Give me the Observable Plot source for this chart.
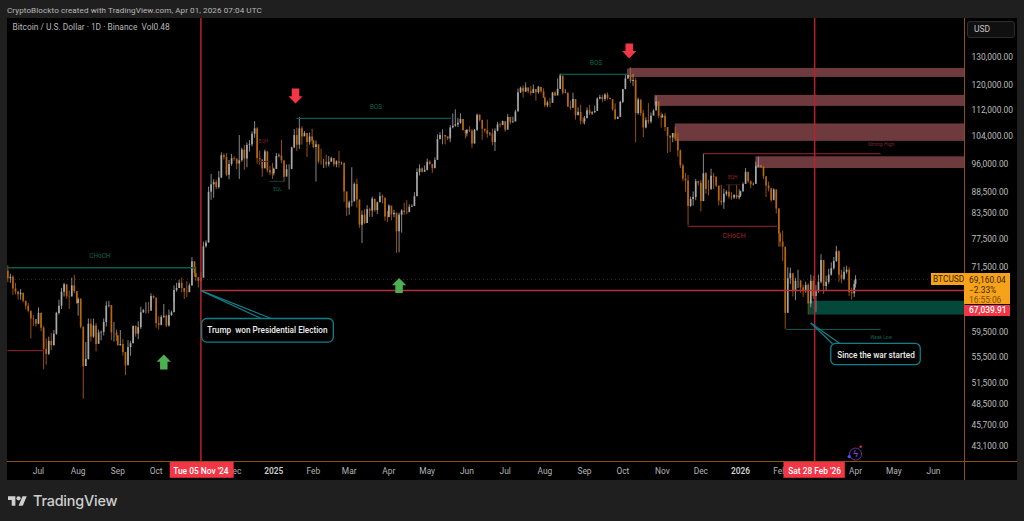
<!DOCTYPE html>
<html>
<head>
<meta charset="utf-8">
<script src="https://cdn.jsdelivr.net/npm/d3@7"></script>
<script src="https://cdn.jsdelivr.net/npm/@observablehq/plot@0.6"></script>
<style>
  html,body{margin:0;padding:0;background:#1f1f1f;width:1024px;height:521px;overflow:hidden;font-family:Roboto,sans-serif}
  #wrap{position:relative;width:1024px;height:521px}
  #head{position:absolute;left:7px;top:5px;font-size:8.1px;color:#b9b9b9;white-space:nowrap;letter-spacing:.08px}
  #panel{position:absolute;left:7px;top:18px;width:1010px;height:462px;background:#000}
  #chart{position:absolute;left:0;top:18px}
  #lineB{position:absolute;left:7px;top:461px;width:1010px;height:1px;background:#8f5210}
  #lineR{position:absolute;left:964px;top:18px;width:1px;height:462px;background:#8f5210}
  #usd{position:absolute;left:967px;top:21px;width:48px;height:17px;box-sizing:border-box;border:1px solid #2c2c2c;border-radius:3px;background:#101010;color:#c4c4c4;font-size:8.5px;line-height:15px;padding-left:6px}
  .tag{position:absolute;font-size:8.4px;box-sizing:border-box;white-space:nowrap}
  #logo{position:absolute;left:8px;top:495px;width:19px;height:12px}
  #brand{position:absolute;left:33px;top:492px;font-family:Inter,Roboto,sans-serif;font-size:14.4px;font-weight:500;color:#cfcfcf;letter-spacing:-.2px}
</style>
</head>
<body>
<div id="wrap">
  <div id="head">CryptoBlockto created with TradingView.com, Apr 01, 2026 07:04 UTC</div>
  <div id="panel"></div>
  <div id="chart"></div>
  <div id="lineB"></div>
  <div id="lineR"></div>
  <div id="usd">USD</div>
  <div class="tag" style="left:931px;top:273px;width:33px;height:12px;background:#f7a21b;color:#3a2500;line-height:12px;padding-left:2px">BTCUSD</div>
  <div class="tag" style="left:964px;top:273px;width:46px;height:31px;background:#f7a21b;color:#3a2500;line-height:10px;padding:2px 0 0 5px">69,160.04<br>−2.33%<br><span style="color:#7a5208">16:55:06</span></div>
  <div class="tag" style="left:964px;top:305px;width:46px;height:11px;background:#f23645;color:#fff;line-height:11px;padding-left:5px;font-weight:500">67,039.91</div>
  <svg id="logo" viewBox="0 4 36 18"><path fill="#cfcfcf" d="M14 22H7V11H0V4h14v18zM28 22h-8l7.5-18h8L28 22z"/><circle fill="#cfcfcf" cx="20" cy="8" r="4"/></svg>
  <div id="brand">TradingView</div>
</div>
<script>
// One row per month, sampled every second day on odd dates. Values in thousands of USD.
const months = ["2024-06","2024-07","2024-08","2024-09","2024-10","2024-11","2024-12","2025-01","2025-02","2025-03","2025-04","2025-05","2025-06","2025-07","2025-08","2025-09","2025-10","2025-11","2025-12","2026-01","2026-02","2026-03","2026-04"];
const firstDays = [7,1,1,1,1,1,1,1,1,1,1,1,1,1,1,1,1,1,1,1,1,1,1];
const firstOpen = 70.8;
const closes = [
[69.3,69.6,67.3,66.7,66.2,66.5,65.0,64.1,63.2,61.8,61.7,60.9],
[62.8,60.2,56.7,55.9,58.0,57.3,59.2,62.8,64.1,66.7,68.1,65.9,65.8,67.9,66.8,64.6],
[65.3,60.4,54.0,55.1,60.9,58.7,60.6,57.5,59.4,59.5,61.2,64.1,64.2,59.4,59.4,58.9],
[57.3,57.5,56.2,54.1,57.0,57.6,60.5,59.2,60.3,62.9,63.3,63.3,63.2,65.9,65.6],
[61.0,60.7,62.1,62.3,60.6,62.4,62.9,67.0,67.4,68.4,67.4,66.7,66.6,67.9,72.7,70.3],
[69.5,68.8,69.4,75.9,76.7,88.6,90.5,91.1,89.8,92.3,98.3,97.8,93.0,95.9,97.5],
[97.4,96.0,96.9,99.9,97.4,101.2,101.4,104.5,106.1,97.5,97.2,94.7,99.4,94.2,93.6,93.4],
[94.6,98.1,98.2,96.9,92.5,94.5,94.5,100.5,104.1,101.3,106.1,103.7,104.7,102.1,103.7,102.4],
[100.6,101.4,96.6,96.5,96.5,95.8,96.5,97.5,95.8,96.6,96.2,96.2,88.7,84.7],
[86.0,86.2,90.6,86.7,80.7,83.0,81.1,84.3,84.0,86.9,84.1,86.0,87.5,87.2,82.6,82.5],
[85.2,83.1,83.5,79.2,83.0,84.0,83.7,83.6,84.9,85.1,87.5,93.7,94.7,93.8,94.3],
[96.5,95.9,94.7,97.0,102.9,104.1,104.1,103.7,103.1,106.4,106.9,107.3,107.8,109.0,105.6,104.6],
[105.7,105.4,101.6,105.7,110.3,108.7,106.0,105.5,104.5,104.6,102.1,105.4,107.3,107.1,108.3],
[105.7,109.6,108.0,108.2,111.3,117.6,119.1,117.8,119.2,117.9,117.3,118.7,117.6,119.4,117.9,115.8],
[113.3,114.2,114.1,117.5,116.5,118.7,123.3,117.4,117.5,112.9,112.5,115.3,110.1,111.2,108.4,108.2],
[109.2,111.7,110.7,111.1,111.5,115.5,116.0,115.3,116.8,115.7,115.3,112.0,109.0,109.6,114.4],
[118.6,122.3,123.5,121.4,121.7,110.8,115.2,110.8,106.4,108.6,108.2,110.0,111.6,114.6,110.0,109.5],
[110.0,106.5,103.9,103.4,104.7,103.0,99.7,95.5,92.0,91.5,85.1,86.8,87.3,91.3,90.9],
[86.3,93.4,89.3,89.2,92.7,92.5,90.2,86.4,86.0,88.1,88.6,87.4,87.2,87.8,87.2,87.6],
[88.7,90.6,93.8,91.3,90.5,90.6,95.3,95.6,95.1,92.6,90.2,89.5,86.5,89.2,84.5,78.7],
[76.9,75.8,62.8,69.3,70.3,66.9,68.8,68.8,67.5,66.8,68.0,64.5,68.8,65.9],
[66.8,68.6,73.0,67.8,68.6,70.0,71.3,72.8,74.8,70.0,69.2,70.6,71.0,66.6,66.4,68.2],
[69.16]];
const highs = [
[71.9,70.2,69.9,68.4,66.9,67.2,66.0,65.0,64.6,62.8,62.4,61.4],
[63.8,62.9,60.5,58.4,58.7,59.3,59.8,63.0,65.2,67.4,68.4,68.1,66.9,69.4,70.0,66.8],
[65.6,65.5,58.3,57.8,61.8,61.8,61.8,61.0,59.9,59.7,61.8,64.9,65.0,64.2,61.2,59.9],
[59.0,59.8,58.3,54.8,58.1,58.0,60.6,60.6,61.3,63.9,63.5,64.7,64.8,66.4,66.0],
[64.1,62.2,62.4,64.4,62.5,63.4,63.2,67.9,68.4,69.0,69.4,67.4,68.7,68.3,73.6,72.7],
[71.6,69.5,70.5,76.9,77.2,89.9,93.2,91.8,91.7,94.0,99.1,98.8,98.9,97.0,98.7],
[98.0,96.9,104.1,100.4,101.2,101.9,102.6,105.2,108.3,106.5,99.6,96.5,99.9,97.8,95.4,96.2],
[94.9,98.9,98.8,102.7,95.3,95.8,95.8,100.7,105.9,106.3,109.6,106.8,105.3,103.2,104.8,106.0],
[102.7,102.5,98.8,100.1,97.3,98.5,98.1,97.9,97.0,96.9,99.5,96.5,92.5,87.0],
[86.4,95.0,91.0,92.0,86.3,84.0,84.3,85.3,84.7,87.4,85.0,86.2,88.5,87.9,84.6,83.9],
[85.5,84.0,84.2,81.2,83.5,84.3,85.9,86.5,85.5,85.5,88.5,94.7,95.8,95.0,95.5],
[97.4,96.9,95.9,97.7,104.3,104.9,105.8,104.2,103.7,107.1,110.7,112.0,109.3,110.7,108.9,104.9],
[105.8,106.8,105.9,105.9,110.6,110.4,106.2,106.0,108.8,105.0,106.0,106.1,108.1,107.8,108.5],
[107.5,110.5,108.4,109.7,111.9,118.8,119.5,119.9,120.9,118.9,119.7,120.2,118.3,119.7,119.2,118.9],
[116.1,114.8,115.7,117.7,117.9,122.3,124.0,119.2,118.6,116.8,114.8,117.4,113.6,112.6,113.5,109.5],
[109.9,112.6,113.4,111.4,113.2,115.9,116.7,116.8,117.3,117.5,115.9,113.4,113.9,109.8,114.8],
[118.7,123.9,125.7,126.2,123.9,122.5,115.8,113.4,111.8,109.5,114.0,111.0,112.0,116.4,113.6,111.0],
[110.6,110.8,104.5,104.0,104.7,106.6,104.6,99.9,96.0,93.5,92.9,87.4,88.7,91.9,91.3],
[91.6,98.9,93.7,91.7,94.6,93.5,92.5,90.1,90.4,89.4,89.0,90.5,88.5,88.0,90.3,89.2],
[88.9,91.0,94.8,93.4,91.5,91.0,96.5,97.9,95.6,95.4,91.0,91.2,89.5,89.5,88.5,84.5],
[79.0,79.3,73.3,71.5,71.4,69.3,69.4,71.0,69.0,68.0,68.6,68.3,70.0,69.8],
[68.0,70.0,74.2,73.0,69.8,71.2,72.5,73.6,76.0,75.0,71.0,71.6,71.8,71.5,67.5,68.9],
[69.9]];
const lows = [
[68.5,68.4,66.1,66.2,65.2,65.2,64.7,63.4,62.9,58.4,60.5,60.4],
[60.8,59.6,53.5,54.2,55.7,56.5,57.2,59.0,62.5,63.5,65.8,65.4,63.5,65.8,66.4,64.4],
[62.3,60.1,49.2,54.6,55.0,57.9,58.5,56.3,57.8,58.1,58.9,60.4,63.8,58.1,57.9,58.0],
[57.2,57.2,55.6,52.6,54.6,55.6,57.6,58.7,58.3,60.0,62.8,62.7,62.7,63.8,65.4],
[60.2,59.9,60.6,61.9,60.3,60.4,62.3,64.8,66.7,67.6,66.6,65.3,65.7,66.8,67.9,69.6],
[68.8,67.5,67.0,74.5,75.6,76.7,86.6,87.1,89.2,89.4,92.1,97.1,92.6,91.8,95.4],
[96.8,94.5,91.9,96.5,94.3,95.0,99.3,100.8,103.3,96.0,95.7,92.5,98.0,93.6,92.9,91.9],
[92.8,94.5,97.7,96.1,91.2,93.8,89.2,96.5,100.3,99.5,100.1,101.3,104.1,97.8,101.3,101.5],
[100.3,91.2,96.1,95.7,94.8,94.9,95.2,97.2,95.2,95.0,94.9,95.7,86.1,82.7],
[83.0,85.0,86.3,84.7,80.0,76.6,80.8,83.9,82.5,82.5,83.7,83.2,86.3,85.8,81.6,81.3],
[82.4,81.7,82.4,74.5,74.6,78.9,83.0,83.1,83.9,84.9,85.2,91.9,92.8,93.6,93.8],
[94.1,95.7,93.5,95.8,101.8,103.1,101.4,101.4,102.6,102.0,106.1,106.6,106.5,107.5,105.4,103.1],
[103.7,105.0,100.4,103.2,105.3,108.2,102.7,104.9,103.3,103.9,101.1,99.5,105.2,106.4,107.2],
[105.1,108.6,107.3,107.8,108.3,115.2,117.3,115.8,117.6,117.3,116.5,117.3,114.8,117.1,117.4,115.7],
[112.7,112.7,112.7,114.3,116.3,118.1,118.9,116.9,117.2,112.7,111.9,114.6,108.8,110.3,107.3,107.5],
[107.3,110.5,110.2,110.2,110.8,113.4,115.2,114.4,114.7,115.1,115.1,111.6,108.7,109.0,111.6],
[114.0,119.3,122.2,120.7,119.7,102.0,110.3,110.0,103.5,106.1,107.5,107.6,110.8,113.8,109.2,106.3],
[109.4,105.3,98.9,99.2,102.0,102.5,97.9,94.8,91.3,88.6,80.6,84.9,85.2,86.5,90.2],
[83.8,89.2,88.1,87.7,89.6,89.3,89.8,85.2,85.3,84.4,87.6,86.9,86.6,86.8,86.8,86.7],
[87.3,89.3,91.0,90.8,89.5,90.2,91.0,95.0,94.8,91.9,87.3,88.7,86.1,87.3,83.3,75.8],
[75.8,72.8,60.0,67.5,68.2,65.8,65.1,67.4,66.5,65.7,66.5,62.5,63.8,65.3],
[63.0,66.5,68.3,66.3,66.8,68.2,69.8,71.0,72.6,68.6,68.3,68.9,70.2,65.9,65.2,65.7],
[67.5]];

// Price axis and time axis
const priceTicks = [130000,120000,112000,104000,96000,88500,83500,77500,71500,59500,55500,51500,48500,45700,43100];
const monthTicks = [["2024-07-01","Jul"],["2024-08-01","Aug"],["2024-09-01","Sep"],["2024-10-01","Oct"],["2024-12-01","Dec"],["2025-02-01","Feb"],["2025-03-01","Mar"],["2025-04-01","Apr"],["2025-05-01","May"],["2025-06-01","Jun"],["2025-07-01","Jul"],["2025-08-01","Aug"],["2025-09-01","Sep"],["2025-10-01","Oct"],["2025-11-01","Nov"],["2025-12-01","Dec"],["2026-02-01","Feb"],["2026-04-01","Apr"],["2026-05-01","May"],["2026-06-01","Jun"]];
const yearTicks = [["2025-01-01","2025"],["2026-01-01","2026"]];
const xDomain = ["2024-06-06T18:00Z","2026-06-25T05:00Z"];
const yDomain = [41220,145200];

// Annotations: [start, end, price]
const tealLines = [["2024-06-07","2024-11-01",71500],["2025-01-19","2025-05-20",109300],["2025-08-14","2025-10-05",123900]];
const redLines = [["2024-06-07","2024-07-06",56500],["2025-11-21","2026-01-30",80400],["2025-12-03","2026-04-21",98900]];
const dimLines = [["2024-12-20","2024-12-29",96700,"#4a1a22"],["2024-12-29","2025-01-10",91400,"#12473f"],["2025-12-21","2026-01-01",90500,"#4a1a22"],["2026-02-06","2026-04-21",60000,"#1c6560"]];
const upperZones = [["2025-10-06",126000,122800],["2025-10-26",116700,113100],["2025-11-11",107600,102400],["2026-01-13",98000,94800]];
const greenZone = [["2026-02-24",65000,62500]];
const smallLabels = [
  ["2024-08-18",74000,"CHoCH","#0e6555",6.4],["2025-03-22",112800,"BOS","#0e6555",6.4],["2025-09-10",127800,"BOS","#0e6555",6.4],
  ["2025-12-27",78400,"CHoCH","#a02030",7],["2026-04-21",101500,"Strong High","#7a2530",5],["2026-04-21",58700,"Weak Low","#0e6555",4.8],
  ["2024-12-24",102400,"EQH","#7a2530",4.8],["2025-01-04",89400,"EQL","#0e6555",4.8],["2025-12-26",92400,"EQH","#a02030",4.8]];
const downArrows = [["2025-01-18",116500],["2025-10-06",132400]];
const upArrows = [["2024-10-07",54700],["2025-04-09",68000]];
const pointers = [["2024-11-05",67000,"2024-12-23",61800],["2024-11-05",67000,"2024-12-31",61800],["2026-02-25",61100,"2026-03-14",57600],["2026-02-25",61100,"2026-03-20",57600]];
const callouts = [["2024-11-06","2025-02-17",61800,57800,"Trump  won Presidential Election","2024-12-27",59800],["2026-03-13","2026-05-22",57600,54200,"Since the war started","2026-04-17",55800]];
const markerDates = ["2024-11-05","2026-02-28"];
const markerLabels = ["Tue 05 Nov '24","Sat 28 Feb '26"];
const markerTags = [["2024-10-12","2024-12-01"],["2026-02-04","2026-03-24"]];

const utc = s => new Date(s);
const candles = [];
let prev = firstOpen;
months.forEach((m, i) => closes[i].forEach((c, j) => {
  const day = String(firstDays[i] + 2 * j).padStart(2, "0");
  candles.push({date: utc(`${m}-${day}`), open: prev * 1000, close: c * 1000, high: highs[i][j] * 1000, low: lows[i][j] * 1000, dir: c >= prev ? "up" : "down"});
  prev = c;
}));

const arrowUp = {draw(ctx, size) {const r = Math.sqrt(size / Math.PI);
  ctx.moveTo(0,-r); ctx.lineTo(r*.95,-r*.02); ctx.lineTo(r*.5,-r*.02); ctx.lineTo(r*.5,r); ctx.lineTo(-r*.5,r); ctx.lineTo(-r*.5,-r*.02); ctx.lineTo(-r*.95,-r*.02); ctx.closePath();}};
const arrowDown = {draw(ctx, size) {const r = Math.sqrt(size / Math.PI);
  ctx.moveTo(0,r); ctx.lineTo(r*.95,r*.02); ctx.lineTo(r*.5,r*.02); ctx.lineTo(r*.5,-r); ctx.lineTo(-r*.5,-r); ctx.lineTo(-r*.5,r*.02); ctx.lineTo(-r*.95,r*.02); ctx.closePath();}};

const xEnd = utc(xDomain[1]);
const chart = Plot.plot({
  width: 1024, height: 464,
  marginLeft: 7, marginRight: 60, marginTop: 0, marginBottom: 21,
  style: {background: "transparent", fontFamily: "Roboto, sans-serif", color: "#bdbdbd", overflow: "visible"},
  x: {type: "utc", domain: xDomain.map(utc), axis: null},
  y: {type: "log", domain: yDomain, axis: null},
  color: {domain: ["up","down"], range: ["#a9a9a9","#b9670f"]},
  marks: [
    Plot.axisY({anchor: "right", ticks: priceTicks, tickFormat: d3.format(",.2f"), tickSize: 0, tickPadding: 7, fontSize: 8.4, label: null, fill: "#bdbdbd"}),
    Plot.axisX({anchor: "bottom", ticks: monthTicks.map(d => utc(d[0])), tickFormat: d => monthTicks.find(t => +utc(t[0]) === +d)[1], tickSize: 0, tickPadding: 7, fontSize: 8.4, label: null, fill: "#b5b5b5"}),
    Plot.axisX({anchor: "bottom", ticks: yearTicks.map(d => utc(d[0])), tickFormat: d => yearTicks.find(t => +utc(t[0]) === +d)[1], tickSize: 0, tickPadding: 7, fontSize: 8.4, fontWeight: 600, label: null, fill: "#cfcfcf"}),
    Plot.rect(upperZones, {x1: d => utc(d[0]), x2: xEnd, y1: d => d[1], y2: d => d[2], fill: "#6f3a3d"}),
    Plot.rect(greenZone, {x1: d => utc(d[0]), x2: xEnd, y1: d => d[1], y2: d => d[2], fill: "#04483b"}),
    Plot.ruleY([69160], {x1: utc(xDomain[0]), x2: xEnd, stroke: "#5b3c12", strokeWidth: 0.7, strokeDasharray: "1,3"}),
    Plot.ruleX(candles, {x: "date", y1: "low", y2: "high", stroke: "dir", strokeWidth: 0.8}),
    Plot.ruleX(candles, {x: "date", y1: "open", y2: "close", stroke: "dir", strokeWidth: 1.7}),
    Plot.ruleY(tealLines, {x1: d => utc(d[0]), x2: d => utc(d[1]), y: d => d[2], stroke: "#0f5a4e", strokeWidth: 1.3}),
    Plot.ruleY(redLines, {x1: d => utc(d[0]), x2: d => utc(d[1]), y: d => d[2], stroke: "#7a1c2a", strokeWidth: 1.3}),
    Plot.ruleY(dimLines, {x1: d => utc(d[0]), x2: d => utc(d[1]), y: d => d[2], stroke: d => d[3], strokeWidth: 0.9}),
    Plot.text(smallLabels, {x: d => utc(d[0]), y: d => d[1], text: d => d[2], fill: d => d[3], fontSize: d => d[4]}),
    Plot.ruleX(markerDates, {x: utc, stroke: "#b5222f", strokeWidth: 1.5}),
    Plot.ruleY([67000], {x1: utc("2024-11-05"), x2: xEnd, stroke: "#b5303a", strokeWidth: 1.5}),
    Plot.dot(downArrows, {x: d => utc(d[0]), y: d => d[1], r: 7.5, symbol: arrowDown, fill: "#f23645", stroke: "none"}),
    Plot.dot(upArrows, {x: d => utc(d[0]), y: d => d[1], r: 7.5, symbol: arrowUp, fill: "#4caf50", stroke: "none"}),
    Plot.link(pointers, {x1: d => utc(d[0]), y1: d => d[1], x2: d => utc(d[2]), y2: d => d[3], stroke: "#0f7f8a", strokeWidth: 1.2}),
    Plot.rect(callouts, {x1: d => utc(d[0]), x2: d => utc(d[1]), y1: d => d[2], y2: d => d[3], fill: "#000", stroke: "#0f7f8a", strokeWidth: 1.3, rx: 5}),
    Plot.text(callouts, {x: d => utc(d[5]), y: d => d[6], text: d => d[4], fill: "#eeeeee", fontSize: 8.2, fontWeight: 500}),
    Plot.rect(markerTags, {x1: d => utc(d[0]), x2: d => utc(d[1]), y1: 39300, y2: 41100, fill: "#f23645"}),
    Plot.text(markerDates, {x: utc, y: 40100, text: (d, i) => markerLabels[i], fill: "#ffffff", fontSize: 8.4, fontWeight: 500}),
    Plot.dot(["2026-04-01"], {x: utc, y: 42100, r: 6, stroke: "#6b2fa0", strokeWidth: 1, fill: "none"}),
    Plot.text(["2026-04-01"], {x: utc, y: 42100, text: () => "ϟ", fill: "#7b3fc0", fontSize: 9, fontWeight: 700}),
    Plot.dot(["2026-04-05"], {x: utc, y: 43000, r: 1.2, fill: "#e53935", stroke: "none"}),
    Plot.dot(["2026-03-27"], {x: utc, y: 41800, r: 1.6, fill: "#5a4bff", stroke: "none"}),
    Plot.text(["Bitcoin / U.S. Dollar · 1D · Binance  Vol0.48"], {frameAnchor: "top-left", dx: 5, dy: 6, text: d => d, fill: "#b7b7b7", fontSize: 8.4, lineAnchor: "top"})
  ]
});
document.getElementById("chart").appendChild(chart);
</script>
</body>
</html>
